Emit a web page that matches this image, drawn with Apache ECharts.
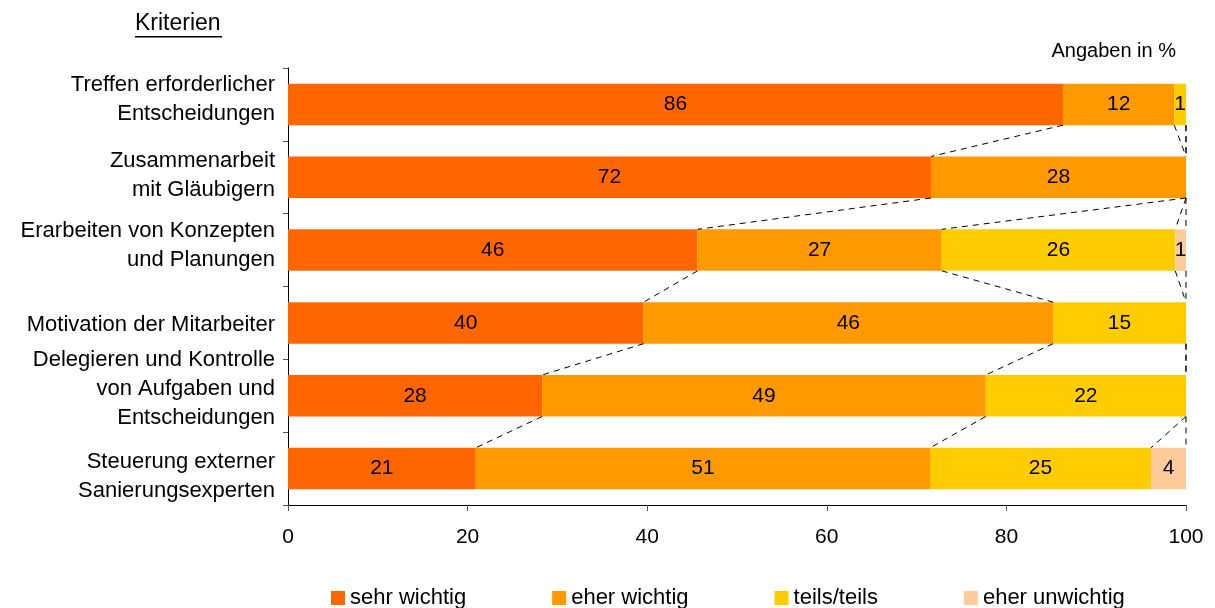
<!DOCTYPE html>
<html>
<head>
<meta charset="utf-8">
<script src="https://cdn.jsdelivr.net/npm/echarts@6/dist/echarts.min.js"></script>
<style>
  html, body { margin: 0; padding: 0; background: #fff; }
  #chart { width: 1215px; height: 608px; }
</style>
</head>
<body>
<div id="chart"></div>
<script>
// Kriterien (top to bottom)
const categories = [
  'Treffen erforderlicher\nEntscheidungen',
  'Zusammenarbeit\nmit Gläubigern',
  'Erarbeiten von Konzepten\nund Planungen',
  'Motivation der Mitarbeiter',
  'Delegieren und Kontrolle\nvon Aufgaben und\nEntscheidungen',
  'Steuerung externer\nSanierungsexperten'
];

// Anteile in % je Kriterium
const sehrWichtig    = [86.3, 71.6, 45.6, 39.6, 28.3, 20.9];
const eherWichtig    = [12.4, 28.4, 27.2, 45.6, 49.4, 50.6];
const teilsTeils     = [1.3, 0, 26.0, 14.8, 22.3, 24.6];
const eherUnwichtig  = [0, 0, 1.2, 0, 0, 3.9];

const seriesNames = ['sehr wichtig', 'eher wichtig', 'teils/teils', 'eher unwichtig'];
const seriesValues = [sehrWichtig, eherWichtig, teilsTeils, eherUnwichtig];
const seriesColors = ['#FF6600', '#FF9900', '#FFCC00', '#FFCC99'];
const xTicks = [0, 20, 40, 60, 80, 100];

const BAR_RATIO = 0.57;
const FONT = '"Liberation Sans", Arial, sans-serif';

// vertical nudge (px) of each category label; negative moves it up
const LABEL_NUDGE = [-5, -2, -5, 2, -7, 8];

const spacerRich = {};
LABEL_NUDGE.forEach(d => {
  const h = Math.abs(d) * 2;
  if (h > 0) spacerRich['g' + h] = { fontSize: 1, lineHeight: h, height: h };
});

function categoryLabel(value, index) {
  const body = value.split('\n').map(l => '{t|' + l + '}').join('\n');
  const d = LABEL_NUDGE[index] || 0;
  const h = Math.abs(d) * 2;
  if (d < 0) return body + '\n{g' + h + '| }';
  if (d > 0) return '{g' + h + '| }\n' + body;
  return body;
}

const barSeries = seriesNames.map((name, k) => ({
  name: name,
  type: 'bar',
  stack: 'total',
  barWidth: (BAR_RATIO * 100) + '%',
  itemStyle: { color: seriesColors[k] },
  label: {
    show: true,
    position: 'inside',
    color: '#000',
    fontFamily: FONT,
    fontSize: 21,
    formatter: p => (p.value > 0 ? String(Math.round(p.value)) : '')
  },
  emphasis: { disabled: true },
  data: seriesValues[k]
}));

// dashed series lines linking the segment ends of neighbouring bars
const connectorSeries = {
  type: 'custom',
  name: 'Verbindungslinien',
  silent: true,
  z: 5,
  encode: { x: 0, y: 1 },
  data: categories.slice(0, -1).map((c, i) => [0, i]),
  renderItem: function (params, api) {
    const i = params.dataIndex;
    const half = api.size([0, 1])[1] * BAR_RATIO / 2;
    const children = [];
    let cumA = 0, cumB = 0;
    for (let k = 0; k < seriesValues.length; k++) {
      cumA += seriesValues[k][i];
      cumB += seriesValues[k][i + 1];
      const a = api.coord([cumA, i]);
      const b = api.coord([cumB, i + 1]);
      children.push({
        type: 'line',
        shape: { x1: a[0], y1: a[1] + half, x2: b[0], y2: b[1] - half },
        style: { stroke: '#000', lineWidth: 1, lineDash: [6, 5] }
      });
    }
    return { type: 'group', children: children };
  }
};

const chart = echarts.init(document.getElementById('chart'), null, { renderer: 'canvas' });

chart.setOption({
  animation: false,
  backgroundColor: '#fff',
  textStyle: { fontFamily: FONT },
  grid: { left: 288, right: 29, top: 68, bottom: 103, containLabel: false },
  legend: {
    data: seriesNames,
    left: 326,
    top: 582,
    itemWidth: 14,
    itemHeight: 14,
    itemGap: 86,
    icon: 'rect',
    textStyle: { fontFamily: FONT, fontSize: 22, color: '#000' },
    selectedMode: false
  },
  xAxis: {
    type: 'value',
    min: xTicks[0],
    max: xTicks[xTicks.length - 1],
    interval: xTicks[1] - xTicks[0],
    splitLine: { show: false },
    axisLine: { show: true, lineStyle: { color: '#000', width: 1 } },
    axisTick: { show: true, length: 6, lineStyle: { color: '#555' } },
    axisLabel: { color: '#000', fontSize: 21, fontFamily: FONT, margin: 22 }
  },
  yAxis: {
    type: 'category',
    inverse: true,
    data: categories,
    axisLine: { show: true, lineStyle: { color: '#000', width: 1 } },
    axisTick: { show: true, interval: 0, length: 5, lineStyle: { color: '#555' } },
    axisLabel: {
      interval: 0,
      hideOverlap: false,
      color: '#000',
      fontSize: 22,
      fontFamily: FONT,
      lineHeight: 29,
      margin: 13,
      align: 'right',
      formatter: categoryLabel,
      rich: Object.assign({
        t: { fontSize: 22, lineHeight: 29, color: '#000', fontFamily: FONT }
      }, spacerRich)
    }
  },
  graphic: [
    {
      type: 'text',
      left: 135,
      top: 12,
      style: { text: 'Kriterien', fill: '#000', font: '23px ' + FONT }
    },
    {
      type: 'rect',
      left: 135,
      top: 36,
      shape: { width: 87, height: 1.5 },
      style: { fill: '#000' }
    },
    {
      type: 'text',
      right: 39,
      top: 41,
      style: { text: 'Angaben in %', fill: '#000', font: '20px ' + FONT }
    }
  ],
  series: barSeries.concat([connectorSeries])
});
</script>
</body>
</html>
